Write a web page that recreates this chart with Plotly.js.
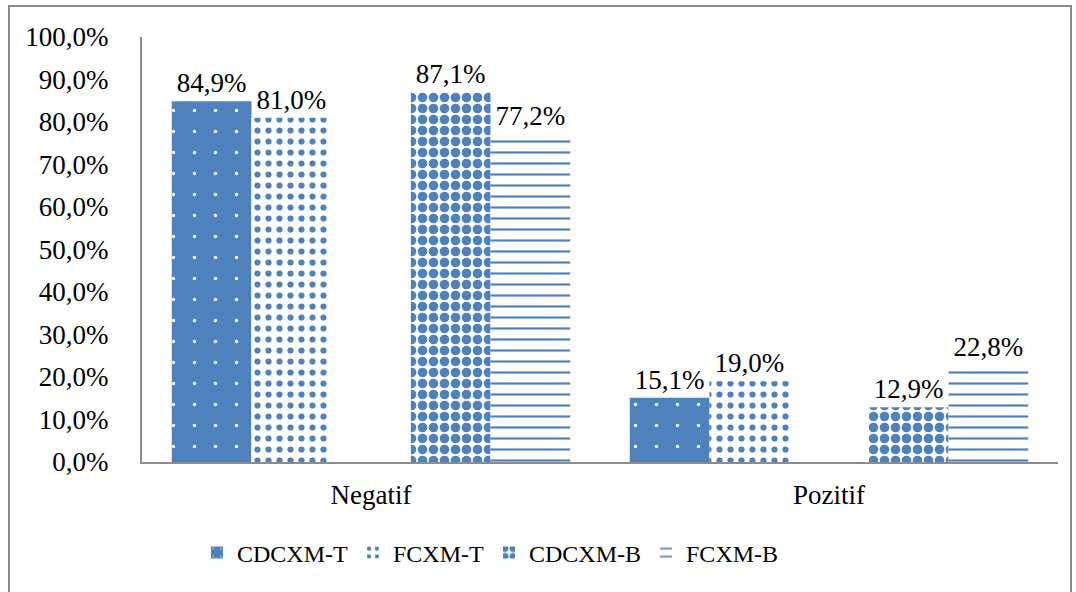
<!DOCTYPE html>
<html>
<head>
<meta charset="utf-8">
<script src="https://cdn.plot.ly/plotly-3.0.1.min.js"></script>
<style>
  html, body { margin: 0; padding: 0; background: #fff; }
  #chart { position: absolute; left: 0; top: 0; width: 1076px; height: 592px; }
  #frame { position: absolute; left: 8px; top: 5px; width: 1060px; height: 600px; border: 2px solid #8c8c8c; pointer-events: none; }
</style>
</head>
<body>
<div id="chart"></div>
<div id="frame"></div>
<script>
const categories = ["Negatif", "Pozitif"];
const seriesNames = ["CDCXM-T", "FCXM-T", "CDCXM-B", "FCXM-B"];
const cdcxmT = [84.9, 15.1];
const fcxmT = [81.0, 19.0];
const cdcxmB = [87.1, 12.9];
const fcxmB = [77.2, 22.8];
const yTicks = [0, 10, 20, 30, 40, 50, 60, 70, 80, 90, 100];
const yTickText = yTicks.map(v => v.toFixed(1).replace(".", ",") + "%");

const blue = "#4F81BD";
const family = "'Liberation Serif', 'Times New Roman', Times, serif";
const font = { family: family, size: 27, color: "#000" };
const legendFont = { family: family, size: 24, color: "#000" };

function bar(name, y, bg, p) {
  return {
    type: "bar", name: name, x: categories, y: y,
    marker: { color: bg, line: { width: 0 }, pattern: p },
    texttemplate: "%{y:.1f}%", textposition: "outside", cliponaxis: false,
    textfont: font
  };
}

const traces = [
  bar(seriesNames[0], cdcxmT, blue, { shape: ".", fgcolor: "#ffffff", bgcolor: blue, size: 21, solidity: 0.02, fillmode: "replace" }),
  bar(seriesNames[1], fcxmT, "#ffffff", { shape: ".", fgcolor: blue, bgcolor: "#ffffff", size: 11, solidity: 0.25, fillmode: "replace" }),
  { type: "bar", name: "", x: categories, y: [null, null], showlegend: false, hoverinfo: "skip", marker: { color: "rgba(0,0,0,0)" } },
  bar(seriesNames[2], cdcxmB, "#ffffff", { shape: ".", fgcolor: blue, bgcolor: "#ffffff", size: 11, solidity: 0.6, fillmode: "replace" }),
  bar(seriesNames[3], fcxmB, "#ffffff", { shape: "-", fgcolor: blue, bgcolor: "#ffffff", size: 11, solidity: 0.2, fillmode: "replace" })
];

const layout = {
  width: 1076, height: 592,
  margin: { l: 142, r: 18, t: 37, b: 130 },
  paper_bgcolor: "#fff", plot_bgcolor: "#fff",
  separators: ",.",
  font: font,
  barmode: "group", bargap: 0.13, bargroupgap: 0,
  showlegend: true,
  legend: { orientation: "h", x: 0.06, xanchor: "left", y: -0.214, yanchor: "middle", font: legendFont, itemwidth: 30 },
  xaxis: { showline: true, linecolor: "#8c8c8c", linewidth: 2, ticks: "", tickfont: font, showgrid: false, zeroline: false, ticklabelstandoff: 8 },
  yaxis: { range: [0, 100], tickvals: yTicks, ticktext: yTickText, showline: true, linecolor: "#8c8c8c", linewidth: 2,
           ticks: "", tickfont: font, showgrid: false, zeroline: false, ticklabelstandoff: 26 }
};

Plotly.newPlot("chart", traces, layout, { displayModeBar: false, staticPlot: true });
</script>
</body>
</html>
